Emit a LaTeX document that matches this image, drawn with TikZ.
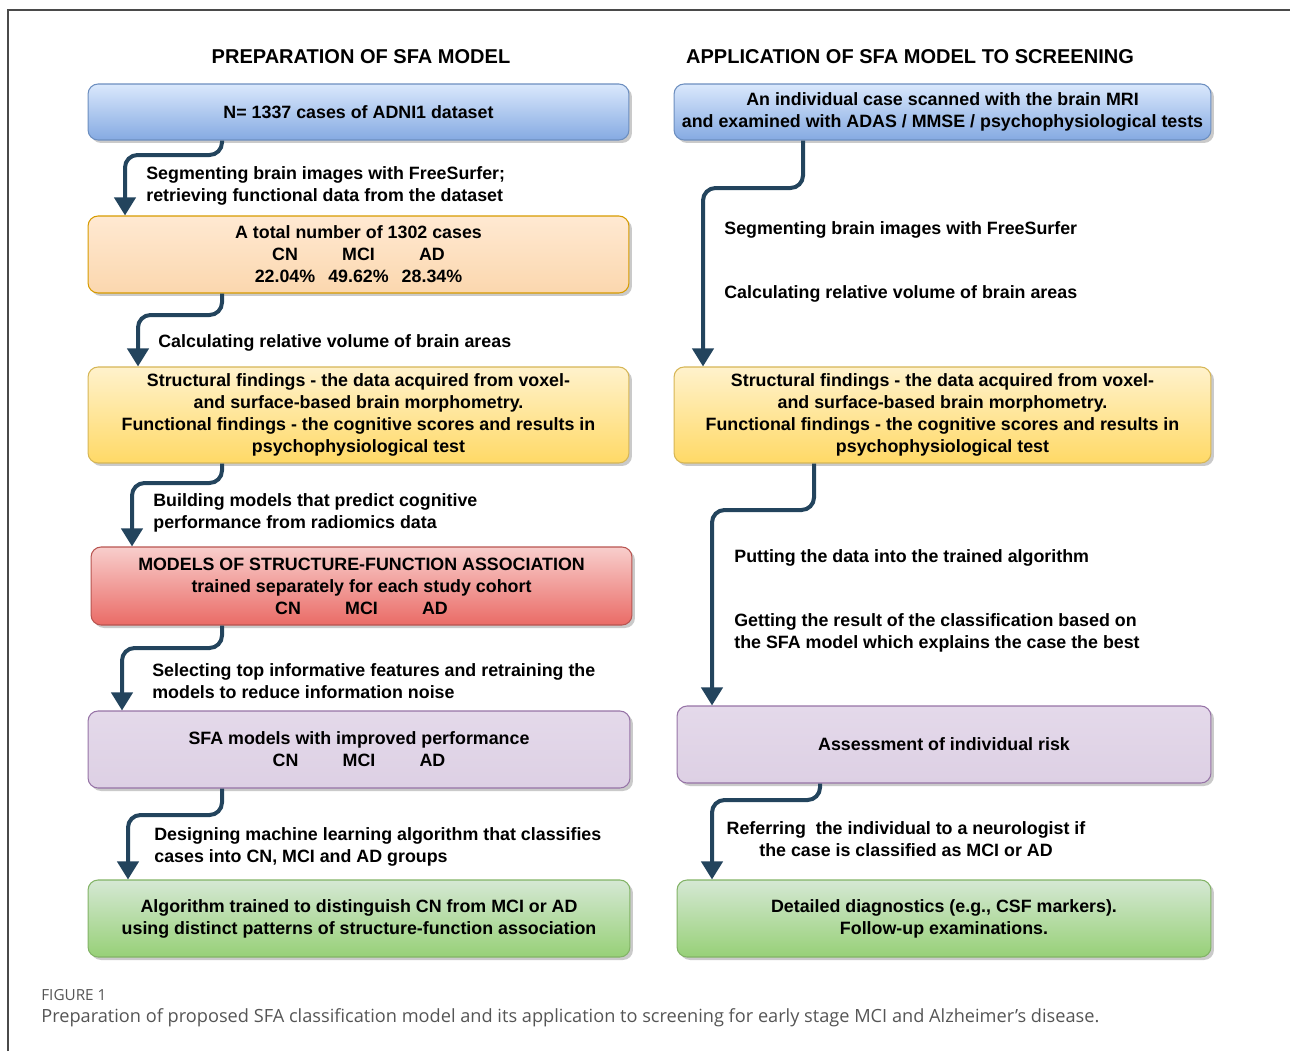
\documentclass[tikz,border=0pt]{standalone}
\usepackage{fontspec}
\setmainfont{Liberation Sans}
\newfontfamily\capfont{Open Sans}
\usetikzlibrary{arrows.meta}
\usetikzlibrary{shadows}
\usetikzlibrary{positioning}

\definecolor{flowblue}{HTML}{23445D}
\definecolor{framegray}{HTML}{4A4A4A}
\definecolor{capgray}{HTML}{555555}
\definecolor{blueT}{HTML}{DAE8FC}\definecolor{blueB}{HTML}{85AAE2}\definecolor{blueD}{HTML}{6C8EBF}
\definecolor{orangeT}{HTML}{FFE9D2}\definecolor{orangeB}{HTML}{FBD7AE}\definecolor{orangeD}{HTML}{D79B00}
\definecolor{yellowT}{HTML}{FFF2CC}\definecolor{yellowB}{HTML}{FFD966}\definecolor{yellowD}{HTML}{D6B656}
\definecolor{redT}{HTML}{F8CECC}\definecolor{redB}{HTML}{EA6B66}\definecolor{redD}{HTML}{B85450}
\definecolor{purpleT}{HTML}{E4D9EA}\definecolor{purpleB}{HTML}{DDD0E4}\definecolor{purpleD}{HTML}{9673A6}
\definecolor{greenT}{HTML}{D5E8D4}\definecolor{greenB}{HTML}{97D077}\definecolor{greenD}{HTML}{82B366}

\newcommand{\cohort}[3]{\makebox[1.47cm]{#1}\makebox[1.47cm]{#2}\makebox[1.47cm]{#3}}

\tikzset{
  box/.style={rectangle, rounded corners=0.2cm, line width=0.6pt, align=center,
    font=\bfseries\fontsize{10.15}{12.5}\selectfont, inner sep=2pt,
    drop shadow={shadow xshift=0.06cm, shadow yshift=-0.06cm, fill=black!60, opacity=0.35}},
  bluebox/.style={box, draw=blueD, top color=blueT, bottom color=blueB},
  orangebox/.style={box, draw=orangeD, top color=orangeT, bottom color=orangeB},
  yellowbox/.style={box, draw=yellowD, top color=yellowT, bottom color=yellowB},
  redbox/.style={box, draw=redD, top color=redT, bottom color=redB},
  purplebox/.style={box, draw=purpleD, top color=purpleT, bottom color=purpleB},
  greenbox/.style={box, draw=greenD, top color=greenT, bottom color=greenB},
  steplabel/.style={font=\bfseries\fontsize{10.15}{12.5}\selectfont, align=left, anchor=west, inner sep=0pt},
  flow/.style={draw=flowblue, line width=0.08cm, rounded corners=0.25cm,
    -{Triangle[width=0.42cm,length=0.36cm]}}
}

\begin{document}
\begin{tikzpicture}[x=0.02cm,y=-0.02cm]
\useasboundingbox (0,0) rectangle (1290,1051);
\draw[framegray,line width=0.04cm] (8,1051) -- (8,10) -- (1290,10);

% titles
\node[font=\bfseries\fontsize{11.4}{13}\selectfont] (tprep) at (361,57) {PREPARATION OF SFA MODEL};
\node[font=\bfseries\fontsize{11.4}{13}\selectfont] (tapp) at (910,57) {APPLICATION OF SFA MODEL TO SCREENING};

% left column
\node[bluebox, minimum width=10.82cm, minimum height=1.12cm] (b1) at (358.5,112) {N= 1337 cases of ADNI1 dataset};
\node[orangebox, minimum width=10.82cm, minimum height=1.54cm] (b2) at (358.5,254.5) {A total number of 1302 cases\\ \cohort{CN}{MCI}{AD}\\ \cohort{22.04\%}{49.62\%}{28.34\%}};
\node[yellowbox, minimum width=10.82cm, minimum height=1.92cm] (b3) at (358.5,415) {Structural findings - the data acquired from voxel-\\ and surface-based brain morphometry.\\ Functional findings - the cognitive scores and results in\\ psychophysiological test};
\node[redbox, minimum width=10.82cm, minimum height=1.56cm] (b4) at (361.5,586) {MODELS OF STRUCTURE-FUNCTION ASSOCIATION\\ trained separately for each study cohort\\ \cohort{CN}{MCI}{AD}};
\node[purplebox, minimum width=10.84cm, minimum height=1.54cm] (b5) at (359,749.5) {SFA models with improved performance\\ \cohort{CN}{MCI}{AD}};
\node[greenbox, minimum width=10.84cm, minimum height=1.54cm] (b6) at (359,918.5) {Algorithm trained to distinguish CN from MCI or AD\\ using distinct patterns of structure-function association};

\node[steplabel] (l1) at (146,186) {Segmenting brain images with FreeSurfer;\\ retrieving functional data from the dataset};
\node[steplabel] (l2) at (158,343) {Calculating relative volume of brain areas};
\node[steplabel] (l3) at (153,513) {Building models that predict cognitive\\ performance from radiomics data};
\node[steplabel] (l4) at (152,681) {Selecting top informative features and retraining the\\ models to reduce information noise};
\node[steplabel] (l5) at (154,847) {Designing machine learning algorithm that classifies\\ cases into CN, MCI and AD groups};

\draw[flow] (222,0 |- b1.south) -- (222,155) -| (125,0 |- b2.north);
\draw[flow] (222,0 |- b2.south) -- (222,315) -| (138,0 |- b3.north);
\draw[flow] (222,0 |- b3.south) -- (222,483) -| (132,0 |- b4.north);
\draw[flow] (222,0 |- b4.south) -- (222,648) -| (122,0 |- b5.north);
\draw[flow] (222,0 |- b5.south) -- (222,815) -| (128,0 |- b6.north);

% right column
\node[bluebox, minimum width=10.74cm, minimum height=1.12cm] (r1) at (942.5,112) {An individual case scanned with the brain MRI\\ and examined with ADAS / MMSE / psychophysiological tests};
\node[yellowbox, minimum width=10.74cm, minimum height=1.92cm] (r2) at (942.5,415) {Structural findings - the data acquired from voxel-\\ and surface-based brain morphometry.\\ Functional findings - the cognitive scores and results in\\ psychophysiological test};
\node[purplebox, minimum width=10.68cm, minimum height=1.54cm] (r3) at (944,744.5) {Assessment of individual risk};
\node[greenbox, minimum width=10.68cm, minimum height=1.54cm] (r4) at (944,918.5) {Detailed diagnostics (e.g., CSF markers).\\ Follow-up examinations.};

\node[steplabel] (m1) at (724,230) {Segmenting brain images with FreeSurfer};
\node[steplabel] (m2) at (724,294) {Calculating relative volume of brain areas};
\node[steplabel] (m3) at (734,558) {Putting the data into the trained algorithm};
\node[steplabel] (m4) at (734,633) {Getting the result of the classification based on\\ the SFA model which explains the case the best};
\node[steplabel, align=center, anchor=center] (m5) at (906,839) {Referring~~the individual to a neurologist if\\ the case is classified as MCI or AD};

\draw[flow] (803,0 |- r1.south) -- (803,188) -| (703,0 |- r2.north);
\draw[flow] (814,0 |- r2.south) -- (814,510) -| (712,0 |- r3.north);
\draw[flow] (820,0 |- r3.south) -- (820,800) -| (712,0 |- r4.north);

% caption
\node[font=\capfont\fontsize{8.7}{10}\selectfont, text=capgray, anchor=west, inner sep=0pt] (fig) at (41,995) {FIGURE 1};
\node[font=\capfont\fontsize{10.35}{12}\selectfont, text=capgray, anchor=west, inner sep=0pt] (cap) at (41,1018) {Preparation of proposed SFA classification model and its application to screening for early stage MCI and Alzheimer’s disease.};
\end{tikzpicture}
\end{document}
